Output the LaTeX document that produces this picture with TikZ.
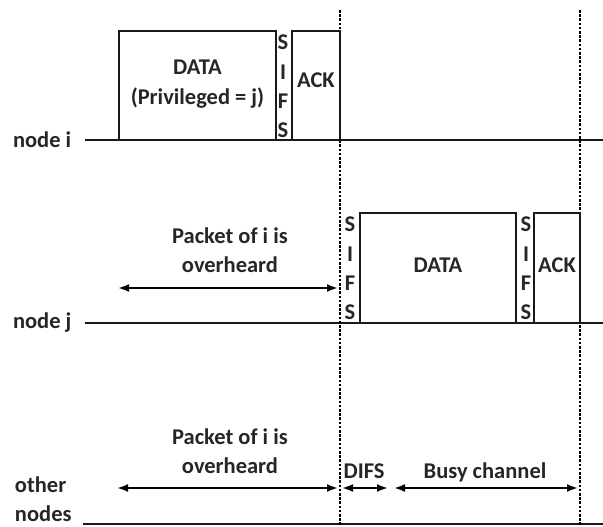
\documentclass[tikz,border=0pt]{standalone}
\usepackage{fontspec}
\setmainfont{Carlito}
\usetikzlibrary{arrows.meta}
\begin{document}
\begin{tikzpicture}[x=1pt,y=-1pt,
  txt/.style={font=\bfseries\fontsize{22.5}{29.3}\selectfont, text=black!85, inner sep=0pt, outer sep=0pt},
  pulse/.style={draw=black!90, line width=2.6pt, inner sep=0pt, outer sep=0pt, anchor=south west},
  axis/.style={draw=black!90, line width=2.8pt},
  marker/.style={draw=black, line width=2pt, dash pattern=on 2.6pt off 1.6pt},
  span/.style={draw=black, line width=2.4pt, {Latex[length=11pt,width=8pt]}-{Latex[length=11pt,width=8pt]}}
]
\useasboundingbox (0,0) rectangle (603,527);
% time axes
\coordinate (ia) at (85,140);   \coordinate (ib) at (603,140);
\coordinate (ja) at (85,323);   \coordinate (jb) at (603,323);
\coordinate (oa) at (83,524);   \coordinate (ob) at (603,524);
\draw[axis] (ia) -- (ib);
\draw[axis] (ja) -- (jb);
\draw[axis] (oa) -- (ob);
% dashed markers
\coordinate (m1t) at (340,10); \coordinate (m1b) at (340,527);
\coordinate (m2t) at (580,10); \coordinate (m2b) at (580,527);
\draw[marker] (m1t) -- (m1b);
\draw[marker] (m2t) -- (m2b);
% node i
\node[pulse, minimum width=157pt, minimum height=109pt] (datai) at (119,140) {};
\node[txt, align=center] (dataitxt) at (197.5,84) {DATA\\(Privileged = j)};
\node[txt, align=center, anchor=south] (sifsi) at (283,138) {S\\I\\F\\S};
\node[pulse, minimum width=48pt, minimum height=109pt] (acki) at (292,140) {};
\node[txt, anchor=base] (ackitxt) at (316,88) {ACK};
% node j
\node[txt, align=center, anchor=south] (sifsj1) at (350,320) {S\\I\\F\\S};
\node[pulse, minimum width=156pt, minimum height=110pt] (dataj) at (360,323) {};
\node[txt, anchor=base] (datajtxt) at (438,272) {DATA};
\node[txt, align=center, anchor=south] (sifsj2) at (526,320) {S\\I\\F\\S};
\node[pulse, minimum width=46pt, minimum height=110pt] (ackj) at (534,323) {};
\node[txt, anchor=base] (ackjtxt) at (557,272) {ACK};
% labels
\node[txt, anchor=base west] (li) at (13,147) {node i};
\node[txt, anchor=base west] (lj) at (13,328) {node j};
\node[txt, align=left, anchor=south west] (lo) at (15,522) {other\\nodes};
% node j overheard
\node[txt, align=center, anchor=south] (ovj) at (230,273) {Packet of i is\\overheard};
\coordinate (aj1) at (118,288); \coordinate (aj2) at (338,288);
\draw[span] (aj1) -- (aj2);
% other nodes
\node[txt, align=center, anchor=south] (ovo) at (230,474) {Packet of i is\\overheard};
\node[txt, anchor=base] (difs) at (364,478) {DIFS};
\node[txt, anchor=base] (busy) at (485,478) {Busy channel};
\coordinate (ao1) at (117,488); \coordinate (ao2) at (338,488);
\coordinate (ao3) at (342,488); \coordinate (ao4) at (388,488);
\coordinate (ao5) at (394,488); \coordinate (ao6) at (578,488);
\draw[span] (ao1) -- (ao2);
\draw[span] (ao3) -- (ao4);
\draw[span] (ao5) -- (ao6);
\end{tikzpicture}
\end{document}
